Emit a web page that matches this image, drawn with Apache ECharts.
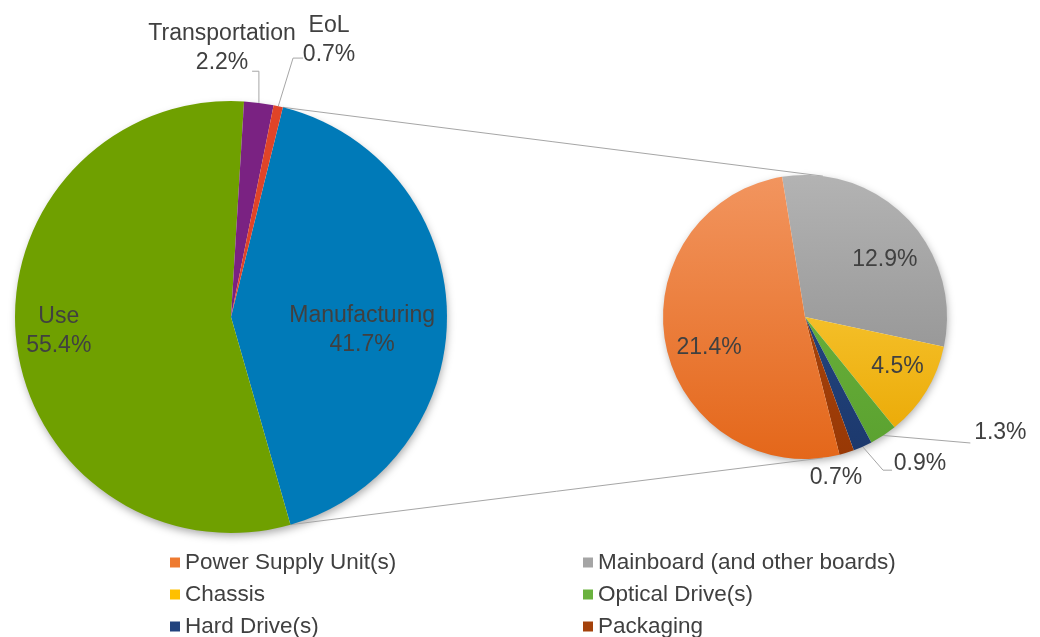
<!DOCTYPE html>
<html>
<head>
<meta charset="utf-8">
<script src="https://cdn.jsdelivr.net/npm/echarts@6/dist/echarts.min.js"></script>
<style>
  html, body { margin: 0; padding: 0; background: #fff; }
  #chart { width: 1040px; height: 637px; }
</style>
</head>
<body>
<div id="chart"></div>
<script>
// main pie (share of total, %)
const leftNames = ['Manufacturing', 'Use', 'Transportation', 'EoL'];
const leftValues = [41.7, 55.4, 2.2, 0.7];
// breakdown of Manufacturing (share of total, %)
const rightNames = ['Mainboard (and other boards)', 'Chassis', 'Optical Drive(s)', 'Hard Drive(s)', 'Packaging', 'Power Supply Unit(s)'];
const rightValues = [12.9, 4.5, 1.3, 0.9, 0.7, 21.4];
// legend columns
const legendCol1 = ['Power Supply Unit(s)', 'Chassis', 'Hard Drive(s)'];
const legendCol2 = ['Mainboard (and other boards)', 'Optical Drive(s)', 'Packaging'];

// pie geometry (px), start = clockwise degrees from 12 o'clock
const L = { cx: 231, cy: 317, r: 216, start: 13.9 };
const R = { cx: 805, cy: 317, r: 142, start: -9.3 };

const FONT = "'Liberation Sans', Arial, sans-serif";
const TEXT = '#404040';
const LINE = '#a6a6a6';

const leftColors = ['#007ab8', '#6fa000', '#7a2282', '#e04428'];
// [top, bottom] for the vertical shading of the small pie
const rightColors = {
  'Power Supply Unit(s)': ['#f2955f', '#e4671a'],
  'Mainboard (and other boards)': ['#b3b3b3', '#888888'],
  'Chassis': ['#ffd850', '#e9a600'],
  'Optical Drive(s)': ['#74ba44', '#5aa12f'],
  'Hard Drive(s)': ['#28508f', '#1c386c'],
  'Packaging': ['#b24d12', '#983805']
};
const legendFlat = {
  'Power Supply Unit(s)': '#ee7a30',
  'Mainboard (and other boards)': '#a5a5a5',
  'Chassis': '#ffc000',
  'Optical Drive(s)': '#6ab23e',
  'Hard Drive(s)': '#22437e',
  'Packaging': '#a4420b'
};

// label anchors: [angle clockwise from top, radius fraction]
const leftLabelPos = [[95.7, 0.61], [265.4, 0.80], [-1.9, 1.245], [19.5, 1.36]];
const rightLabelPos = [[54.5, 0.69], [118.3, 0.74], [120.7, 1.60], [141.8, 1.31], [169.1, 1.155], [252.1, 0.71]];

function pt(g, ang, frac) {
  const a = ang * Math.PI / 180;
  return [g.cx + g.r * frac * Math.sin(a), g.cy - g.r * frac * Math.cos(a)];
}
function midAngles(vals, start) {
  const tot = vals.reduce((s, v) => s + v, 0);
  let acc = start;
  return vals.map(v => {
    const span = v / tot * 360;
    const m = acc + span / 2;
    acc += span;
    return m;
  });
}
// point where a line from p touches circle g (side = -1 upper, +1 lower)
function tangent(p, g, side) {
  const dx = g.cx - p[0], dy = g.cy - p[1];
  const d = Math.sqrt(dx * dx + dy * dy);
  const a = Math.atan2(dy, dx) + side * Math.asin(g.r / d);
  const nx = -side * Math.sin(a), ny = side * Math.cos(a);
  return [g.cx + g.r * nx, g.cy + g.r * ny];
}
const leftMid = midAngles(leftValues, L.start);
const rightMid = midAngles(rightValues, R.start);
const manuEnd = L.start + leftValues[0] / leftValues.reduce((s, v) => s + v, 0) * 360;

function leftLayout(p) {
  const i = p.dataIndex;
  const [x, y] = pt(L, leftLabelPos[i][0], leftLabelPos[i][1]);
  const res = { x: x, y: y, align: 'center', verticalAlign: 'middle' };
  const arc = pt(L, leftMid[i], 1);
  if (leftNames[i] === 'Transportation') {
    res.labelLinePoints = [arc, [arc[0], y + 23], [x + 30, y + 23]];
  } else if (leftNames[i] === 'EoL') {
    res.labelLinePoints = [arc, [x - 36, y + 18], [x - 26, y + 18]];
  }
  return res;
}
function rightLayout(p) {
  const i = p.dataIndex;
  const [x, y] = pt(R, rightLabelPos[i][0], rightLabelPos[i][1]);
  const res = { x: x, y: y, align: 'center', verticalAlign: 'middle' };
  const arc = pt(R, rightMid[i], 1);
  if (rightNames[i] === 'Optical Drive(s)') {
    res.labelLinePoints = [arc, [x - 30, y + 10], [x - 30, y + 10]];
  } else if (rightNames[i] === 'Hard Drive(s)') {
    res.labelLinePoints = [arc, [x - 37, y + 7], [x - 28, y + 7]];
  }
  return res;
}

const insideLeft = ['Manufacturing', 'Use'];
const lineRight = ['Optical Drive(s)', 'Hard Drive(s)'];

const leftData = leftNames.map((n, i) => ({
  name: n,
  value: leftValues[i],
  itemStyle: { color: leftColors[i] },
  labelLine: { show: insideLeft.indexOf(n) < 0 }
}));
const rightData = rightNames.map((n, i) => ({
  name: n,
  value: rightValues[i],
  itemStyle: {
    color: {
      type: 'linear', global: true,
      x: 0, y: R.cy - R.r, x2: 0, y2: R.cy + R.r,
      colorStops: [{ offset: 0, color: rightColors[n][0] }, { offset: 1, color: rightColors[n][1] }]
    }
  },
  labelLine: { show: lineRight.indexOf(n) >= 0 }
}));

// connector lines from the Manufacturing wedge to the small pie
const topA = pt(L, L.start, 1), topB = tangent(topA, R, -1);
const botA = pt(L, manuEnd, 1), botB = tangent(botA, R, 1);

const legendBase = {
  orient: 'vertical',
  top: 551,
  height: 120,
  padding: 0,
  itemWidth: 10,
  itemHeight: 10,
  itemGap: 9,
  icon: 'rect',
  selectedMode: false,
  textStyle: { fontSize: 22.5, lineHeight: 22, color: TEXT, fontFamily: FONT }
};

const chart = echarts.init(document.getElementById('chart'));
chart.setOption({
  animation: false,
  backgroundColor: '#fff',
  legend: [
    Object.assign({}, legendBase, { left: 170, data: legendCol1.map(n => ({ name: n, itemStyle: { color: legendFlat[n] } })) }),
    Object.assign({}, legendBase, { left: 583, data: legendCol2.map(n => ({ name: n, itemStyle: { color: legendFlat[n] } })) })
  ],
  graphic: [
    { type: 'circle', z: 0, silent: true, shape: { cx: L.cx, cy: L.cy, r: L.r - 1 },
      style: { fill: '#fff', shadowBlur: 9, shadowOffsetX: 1, shadowOffsetY: 4, shadowColor: 'rgba(0,0,0,0.35)' } },
    { type: 'circle', z: 0, silent: true, shape: { cx: R.cx, cy: R.cy, r: R.r - 1 },
      style: { fill: '#fff', shadowBlur: 8, shadowOffsetX: 1, shadowOffsetY: 3, shadowColor: 'rgba(0,0,0,0.35)' } },
    { type: 'line', z: 0, silent: true, shape: { x1: topA[0], y1: topA[1], x2: topB[0], y2: topB[1] },
      style: { stroke: LINE, lineWidth: 1 } },
    { type: 'line', z: 0, silent: true, shape: { x1: botA[0], y1: botA[1], x2: botB[0], y2: botB[1] },
      style: { stroke: LINE, lineWidth: 1 } }
  ],
  series: [
    {
      type: 'pie',
      center: [L.cx, L.cy],
      radius: L.r,
      startAngle: 90 - L.start,
      avoidLabelOverlap: false,
      minShowLabelAngle: 0,
      emphasis: { disabled: true },
      itemStyle: { borderWidth: 0 },
      label: {
        show: true, position: 'outside',
        formatter: '{b}\n{c}%',
        fontSize: 23, lineHeight: 29, color: TEXT, fontFamily: FONT
      },
      labelLine: { show: true, smooth: false, lineStyle: { color: LINE, width: 1 } },
      labelLayout: leftLayout,
      data: leftData
    },
    {
      type: 'pie',
      center: [R.cx, R.cy],
      radius: R.r,
      startAngle: 90 - R.start,
      avoidLabelOverlap: false,
      minShowLabelAngle: 0,
      emphasis: { disabled: true },
      itemStyle: { borderWidth: 0 },
      label: {
        show: true, position: 'outside',
        formatter: '{c}%',
        fontSize: 23, lineHeight: 29, color: TEXT, fontFamily: FONT
      },
      labelLine: { show: true, smooth: false, lineStyle: { color: LINE, width: 1 } },
      labelLayout: rightLayout,
      data: rightData
    }
  ]
});
</script>
</body>
</html>
